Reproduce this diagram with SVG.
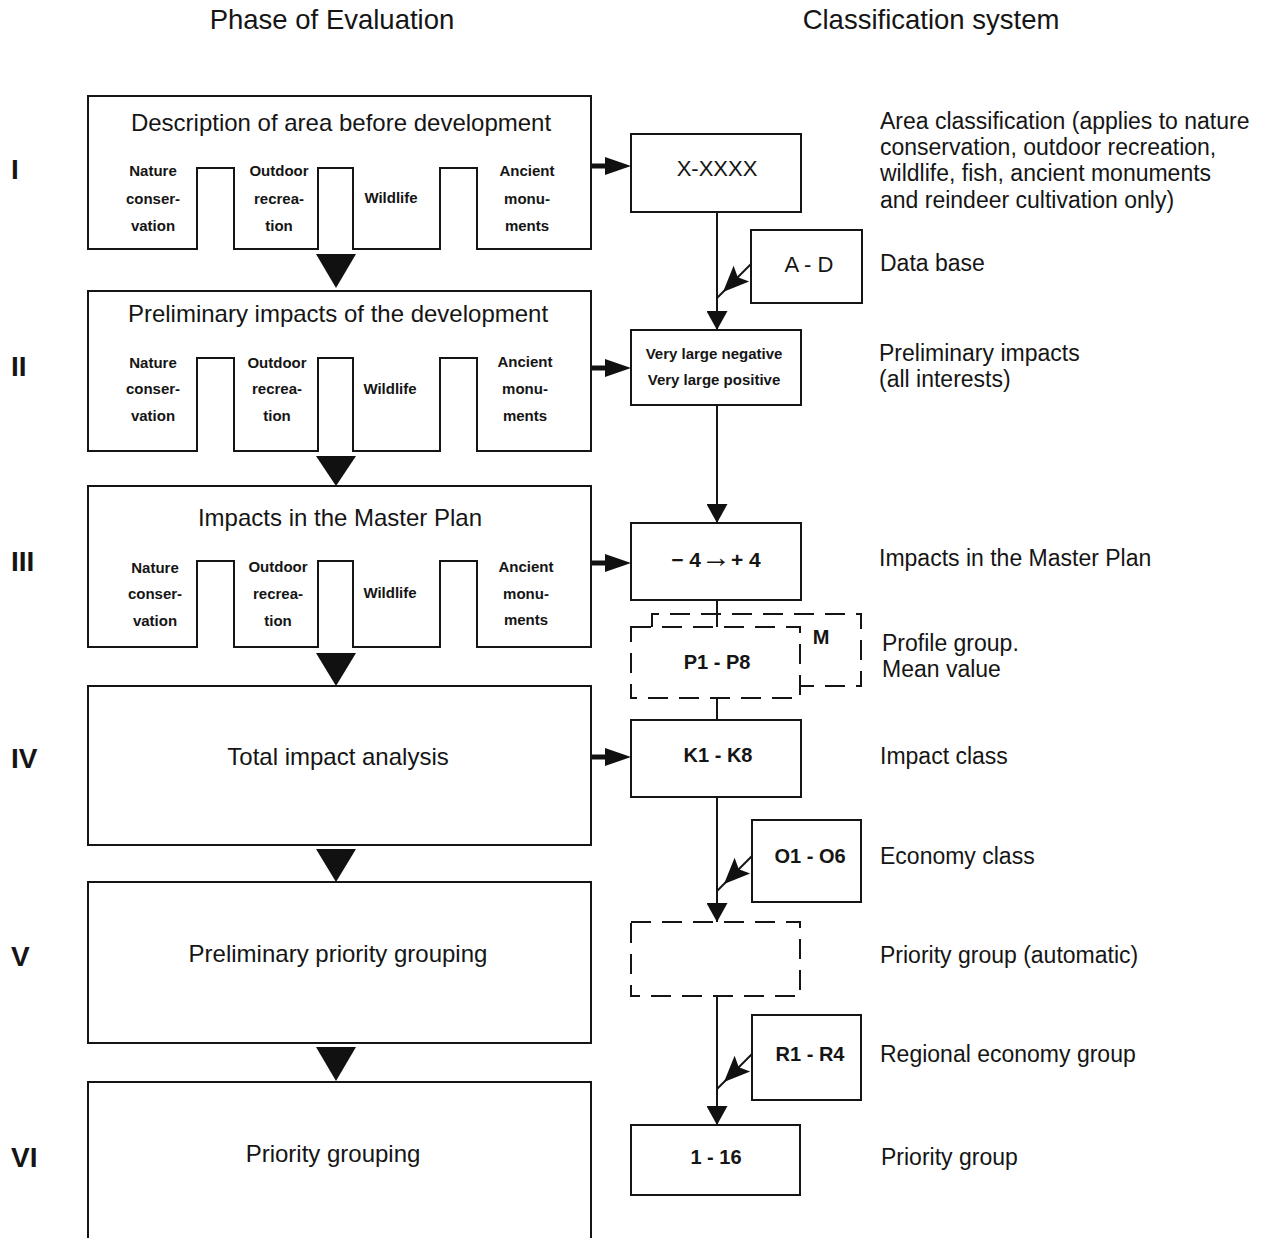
<svg xmlns="http://www.w3.org/2000/svg" width="1270" height="1238" viewBox="0 0 1270 1238">
<style>
text{font-family:"Liberation Sans",Arial,sans-serif;fill:#151515}
.hdr{font-size:27.5px;text-anchor:middle}
.rom{font-size:28px;font-weight:bold}
.ttl{font-size:24px;text-anchor:middle}
.sub{font-size:15px;font-weight:bold;text-anchor:middle}
.lbl{font-size:23px}
.bx{font-size:22px;text-anchor:middle}
.bxb{font-size:20px;font-weight:bold;text-anchor:middle}
.sm{font-size:15px;font-weight:bold;text-anchor:middle}
.box{fill:none;stroke:#151515;stroke-width:2}
.dash{fill:none;stroke:#151515;stroke-width:2;stroke-dasharray:20 11}
.tri{fill:#111}
.ln{fill:none;stroke:#151515;stroke-width:2}
.thick{fill:none;stroke:#111;stroke-width:5}
</style>
<defs>
<marker id="ah" markerUnits="userSpaceOnUse" markerWidth="21" markerHeight="21" refX="19" refY="10.5" orient="auto"><path d="M0,0 L19,10.5 L0,21 z" fill="#111"/></marker>
<marker id="ahz" markerUnits="userSpaceOnUse" markerWidth="27" markerHeight="19" refX="5" refY="9" orient="auto"><path d="M0,0 L26,9 L0,18 z" fill="#111"/></marker>
<path id="dh" d="M0,0 L26.2,-10.6 L14.8,-14.8 L10.6,-26.2 Z" fill="#111"/>
</defs>
<rect width="1270" height="1238" fill="#fff"/>

<g id="headers">
<text class="hdr" x="332" y="29">Phase of Evaluation</text>
<text class="hdr" x="931" y="29">Classification system</text>
</g>

<g id="roman">
<text class="rom" x="11" y="179">I</text>
<text class="rom" x="11" y="376">II</text>
<text class="rom" x="11" y="571">III</text>
<text class="rom" x="11" y="768">IV</text>
<text class="rom" x="11" y="966">V</text>
<text class="rom" x="11" y="1167">VI</text>
</g>

<g id="phase1">
<path class="box" d="M88,96 H591 V249 H477 V168 H440 V249 H353 V168 H318 V249 H234 V168 H197 V249 H88 Z"/>
<text class="ttl" x="341" y="131">Description of area before development</text>
<text class="sub" x="153" y="175.5">Nature</text>
<text class="sub" x="153" y="203.5">conser-</text>
<text class="sub" x="153" y="230.5">vation</text>
<text class="sub" x="279" y="175.5">Outdoor</text>
<text class="sub" x="279" y="203.5">recrea-</text>
<text class="sub" x="279" y="230.5">tion</text>
<text class="sub" x="391" y="202.5">Wildlife</text>
<text class="sub" x="527" y="175.5">Ancient</text>
<text class="sub" x="527" y="203.5">monu-</text>
<text class="sub" x="527" y="230.5">ments</text>
</g>

<g id="phase2">
<path class="box" d="M88,291 H591 V451 H477 V358 H440 V451 H353 V358 H318 V451 H234 V358 H197 V451 H88 Z"/>
<text class="ttl" x="338" y="322">Preliminary impacts of the development</text>
<text class="sub" x="153" y="367.5">Nature</text>
<text class="sub" x="153" y="394">conser-</text>
<text class="sub" x="153" y="421">vation</text>
<text class="sub" x="277" y="367.5">Outdoor</text>
<text class="sub" x="277" y="394">recrea-</text>
<text class="sub" x="277" y="421">tion</text>
<text class="sub" x="390" y="393.5">Wildlife</text>
<text class="sub" x="525" y="366.5">Ancient</text>
<text class="sub" x="525" y="393.5">monu-</text>
<text class="sub" x="525" y="420.5">ments</text>
</g>

<g id="phase3">
<path class="box" d="M88,486 H591 V647 H477 V561 H440 V647 H353 V561 H318 V647 H234 V561 H197 V647 H88 Z"/>
<text class="ttl" x="340" y="526">Impacts in the Master Plan</text>
<text class="sub" x="155" y="572.5">Nature</text>
<text class="sub" x="155" y="598.5">conser-</text>
<text class="sub" x="155" y="625.5">vation</text>
<text class="sub" x="278" y="571.5">Outdoor</text>
<text class="sub" x="278" y="598.5">recrea-</text>
<text class="sub" x="278" y="625.5">tion</text>
<text class="sub" x="390" y="597.5">Wildlife</text>
<text class="sub" x="526" y="571.5">Ancient</text>
<text class="sub" x="526" y="598.5">monu-</text>
<text class="sub" x="526" y="624.5">ments</text>
</g>

<g id="phase4">
<rect class="box" x="88" y="686" width="503" height="159"/>
<text class="ttl" x="338" y="765">Total impact analysis</text>
</g>
<g id="phase5">
<rect class="box" x="88" y="882" width="503" height="161"/>
<text class="ttl" x="338" y="962">Preliminary priority grouping</text>
</g>
<g id="phase6">
<path class="box" d="M88,1240 V1082 H591 V1240"/>
<text class="ttl" x="333" y="1162">Priority grouping</text>
</g>

<g id="c-xxxx">
<rect class="box" x="631" y="134" width="170" height="78"/>
<text class="bx" x="717" y="176">X-XXXX</text>
</g>
<g id="c-ad">
<rect class="box" x="751" y="230" width="111" height="73"/>
<text class="bx" x="809" y="272">A - D</text>
</g>
<g id="c-verylarge">
<rect class="box" x="631" y="330" width="170" height="75"/>
<text class="sm" x="714" y="358.5">Very large negative</text>
<text class="sm" x="714" y="384.5">Very large positive</text>
</g>
<g id="c-minus4">
<rect class="box" x="631" y="523" width="170" height="77"/>
<text class="bxb" x="716" y="567" style="font-size:21px">− 4<tspan style="font-size:30px;font-weight:normal">→</tspan>+ 4</text>
</g>
<g id="c-p1p8">
<rect class="dash" x="631" y="627" width="169" height="71"/>
<path class="dash" d="M652,627 V614 H861 V686 H800"/>
<text class="bxb" x="717" y="669">P1 - P8</text>
<text class="bxb" x="821" y="644">M</text>
</g>
<g id="c-k1k8">
<rect class="box" x="631" y="720" width="170" height="77"/>
<text class="bxb" x="718" y="762">K1 - K8</text>
</g>
<g id="c-o1o6">
<rect class="box" x="752" y="820" width="109" height="82"/>
<text class="bxb" x="810" y="863">O1 - O6</text>
</g>
<g id="c-auto">
<rect class="dash" x="631" y="922" width="169" height="74"/>
</g>
<g id="c-r1r4">
<rect class="box" x="752" y="1015" width="109" height="85"/>
<text class="bxb" x="810" y="1061">R1 - R4</text>
</g>
<g id="c-1-16">
<rect class="box" x="631" y="1125" width="169" height="70"/>
<text class="bxb" x="716" y="1164">1 - 16</text>
</g>

<g id="labels">
<text class="lbl" x="880" y="129">Area classification (applies to nature</text>
<text class="lbl" x="880" y="155">conservation, outdoor recreation,</text>
<text class="lbl" x="880" y="181">wildlife, fish, ancient monuments</text>
<text class="lbl" x="880" y="208">and reindeer cultivation only)</text>
<text class="lbl" x="880" y="271">Data base</text>
<text class="lbl" x="879" y="361">Preliminary impacts</text>
<text class="lbl" x="879" y="387">(all interests)</text>
<text class="lbl" x="879" y="566">Impacts in the Master Plan</text>
<text class="lbl" x="882" y="651">Profile group.</text>
<text class="lbl" x="882" y="677">Mean value</text>
<text class="lbl" x="880" y="764">Impact class</text>
<text class="lbl" x="880" y="864">Economy class</text>
<text class="lbl" x="880" y="963">Priority group (automatic)</text>
<text class="lbl" x="880" y="1062">Regional economy group</text>
<text class="lbl" x="881" y="1165">Priority group</text>
</g>

<g id="connectors">
<polygon class="tri" points="316,254 356,254 336,288"/>
<polygon class="tri" points="316,456 356,456 336,486"/>
<polygon class="tri" points="316,653 356,653 336,686"/>
<polygon class="tri" points="316,849 356,849 336,882"/>
<polygon class="tri" points="316,1047 356,1047 336,1081"/>

<line class="thick" x1="592" y1="166" x2="610" y2="166" marker-end="url(#ahz)"/>
<line class="thick" x1="592" y1="368" x2="610" y2="368" marker-end="url(#ahz)"/>
<line class="thick" x1="592" y1="563" x2="610" y2="563" marker-end="url(#ahz)"/>
<line class="thick" x1="592" y1="757" x2="610" y2="757" marker-end="url(#ahz)"/>

<line class="ln" x1="717" y1="212" x2="717" y2="330" marker-end="url(#ah)"/>
<line class="ln" x1="717" y1="405" x2="717" y2="523" marker-end="url(#ah)"/>
<line class="ln" x1="717" y1="600" x2="717" y2="627"/>
<line class="ln" x1="717" y1="698" x2="717" y2="720"/>
<line class="ln" x1="717" y1="797" x2="717" y2="922" marker-end="url(#ah)"/>
<line class="ln" x1="717" y1="996" x2="717" y2="1125" marker-end="url(#ah)"/>

<line class="ln" x1="751" y1="264" x2="717" y2="298"/>
<use href="#dh" x="723" y="292"/>
<line class="ln" x1="752" y1="856" x2="717" y2="891"/>
<use href="#dh" x="724" y="884"/>
<line class="ln" x1="752" y1="1054" x2="717" y2="1089"/>
<use href="#dh" x="724" y="1082"/>
</g>
</svg>
